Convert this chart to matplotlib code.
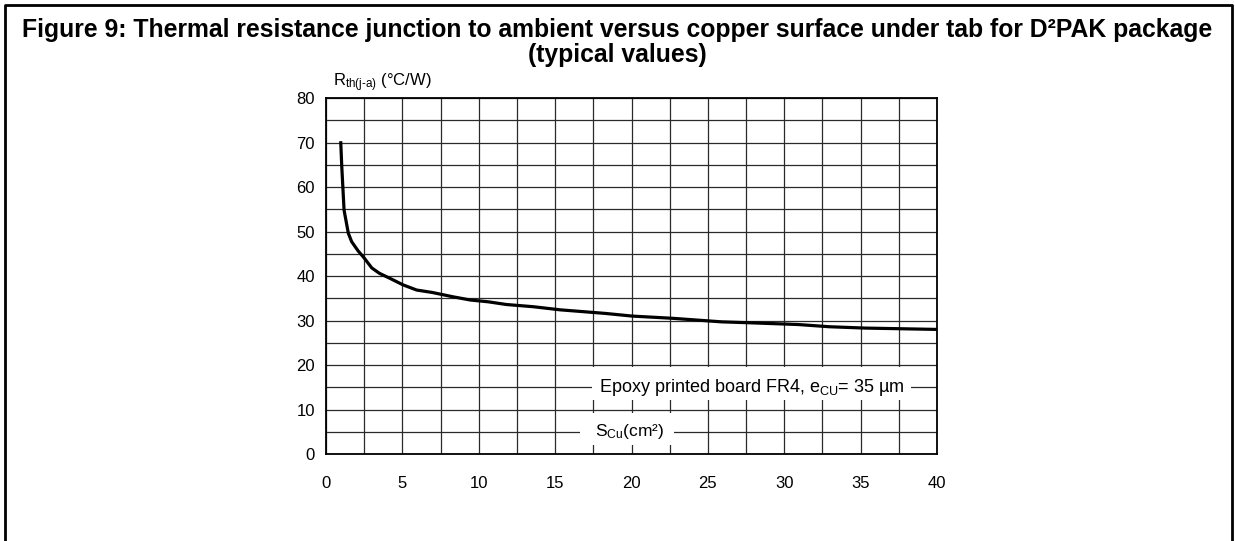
import matplotlib
matplotlib.use("Agg")
import matplotlib.pyplot as plt
from matplotlib.patches import Rectangle
from matplotlib.lines import Line2D
from matplotlib.ticker import MultipleLocator

plt.rcParams['font.family'] = ['Liberation Sans', 'DejaVu Sans']
plt.rcParams['mathtext.fontset'] = 'custom'
plt.rcParams['mathtext.rm'] = 'Liberation Sans'
plt.rcParams['mathtext.it'] = 'Liberation Sans'

# copper surface (cm2) vs Rth(j-a) (C/W)
s_cu = [0.96, 1.03, 1.18, 1.46, 1.68, 2.11, 2.44, 3.0, 3.5, 4.17, 5.05, 5.93,
        6.96, 8.28, 9.46, 10.63, 11.8, 13.57, 15.33, 18.27, 20.03, 22.67,
        25.9, 27.67, 30.9, 32.96, 35.3, 40.0]
rth = [70.3, 64.6, 54.8, 49.6, 47.7, 45.6, 44.3, 41.8, 40.6, 39.5, 38.0, 36.85,
       36.3, 35.35, 34.6, 34.2, 33.6, 33.1, 32.4, 31.6, 31.0, 30.5,
       29.7, 29.5, 29.1, 28.6, 28.3, 28.0]

x_ticks = [0, 5, 10, 15, 20, 25, 30, 35, 40]
y_ticks = [0, 10, 20, 30, 40, 50, 60, 70, 80]

title = ("Figure 9: Thermal resistance junction to ambient versus copper surface under tab for D\u00b2PAK package\n"
         "(typical values)")

fig = plt.figure(figsize=(12.35, 5.41), dpi=100)
ax = fig.add_axes([0.264, 0.1608, 0.4947, 0.658])

ax.plot(s_cu, rth, color='black', lw=2.3, solid_capstyle='butt', zorder=4)

ax.set_xlim(0, 40)
ax.set_ylim(0, 80)
ax.set_xticks(x_ticks)
ax.set_yticks(y_ticks)
ax.xaxis.set_minor_locator(MultipleLocator(2.5))
ax.yaxis.set_minor_locator(MultipleLocator(5))
ax.grid(True, which='both', color='#2a2a2a', lw=0.9)
ax.tick_params(which='both', length=0, labelsize=12)
ax.tick_params(axis='x', pad=16)
ax.tick_params(axis='y', pad=8)
for sp in ax.spines.values():
    sp.set_linewidth(1.3)
ax.set_axisbelow(True)

# white boxes that hide the grid under the labels
ax.add_patch(Rectangle((17.4, 12.2), 20.9, 7.4, facecolor='white', edgecolor='none', zorder=2))
ax.add_patch(Rectangle((16.6, 2.1), 6.2, 7.2, facecolor='white', edgecolor='none', zorder=2))
ax.text(27.85, 15, 'Epoxy printed board FR4, e$_{\\mathrm{CU}}$= 35 \u00b5m', ha='center', va='center',
        fontsize=13, zorder=3)
ax.text(19.85, 5, 'S$_{\\mathrm{Cu}}$(cm\u00b2)', ha='center', va='center', fontsize=12.5, zorder=3)

ax.text(0.011, 1.012, 'R$_{\\mathrm{th(j\\text{-}a)}}$ (\u00b0C/W)', transform=ax.transAxes,
        ha='left', va='bottom', fontsize=12)

fig.text(0.5, 0.921, title, ha='center', va='center', fontsize=17.8, fontweight='bold',
         linespacing=1.08)

# outer frame of the datasheet figure (open at the bottom)
fig.add_artist(Line2D([5 / 1235, 5 / 1235, 1232 / 1235, 1232 / 1235],
                      [0, 1 - 5 / 541, 1 - 5 / 541, 0], color='black', lw=2.0))

fig.savefig('out.png', dpi=100)
